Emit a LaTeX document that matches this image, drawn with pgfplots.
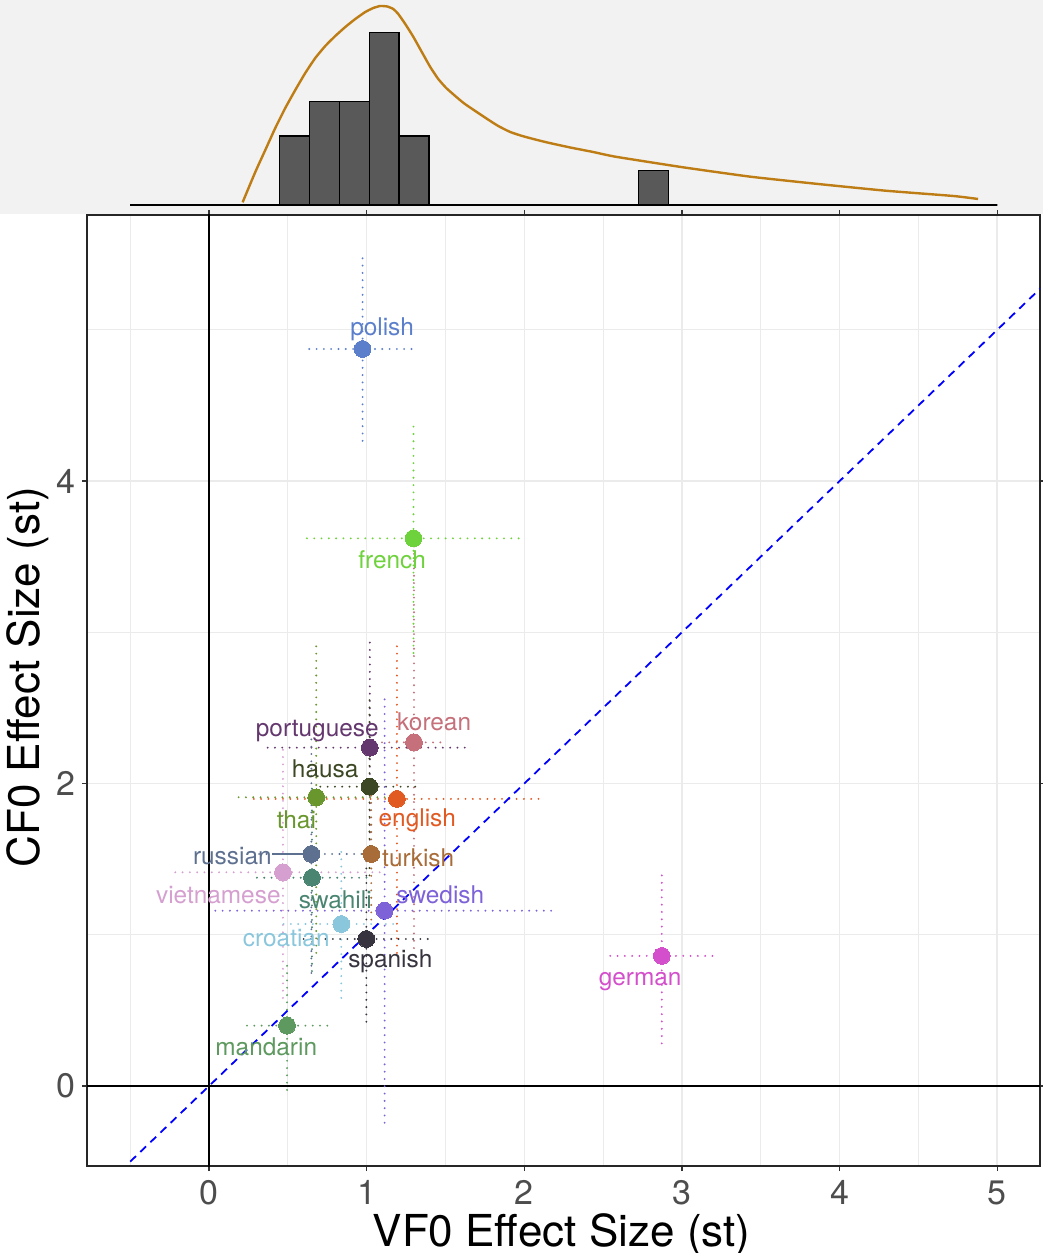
\documentclass[border=0pt]{standalone}
\usepackage{pgfplots}
\pgfplotsset{compat=1.18}
\usepackage{fontspec}
\setmainfont{TeX Gyre Heros}

\definecolor{panelgray}{RGB}{242,242,242}
\definecolor{gridgray}{RGB}{235,235,235}
\definecolor{tickgray}{RGB}{77,77,77}
\definecolor{barfill}{RGB}{89,89,89}
\definecolor{densline}{RGB}{190,125,20}

\definecolor{cpolish}{RGB}{91,127,203}
\definecolor{cfrench}{RGB}{110,210,60}
\definecolor{cportuguese}{RGB}{100,55,110}
\definecolor{ckorean}{RGB}{197,112,122}
\definecolor{chausa}{RGB}{60,72,35}
\definecolor{cthai}{RGB}{105,150,45}
\definecolor{cenglish}{RGB}{224,90,34}
\definecolor{crussian}{RGB}{94,112,144}
\definecolor{cturkish}{RGB}{168,108,56}
\definecolor{cvietnamese}{RGB}{213,159,208}
\definecolor{cswahili}{RGB}{74,133,113}
\definecolor{cswedish}{RGB}{126,98,216}
\definecolor{ccroatian}{RGB}{138,198,220}
\definecolor{cspanish}{RGB}{56,52,63}
\definecolor{cmandarin}{RGB}{94,154,96}
\definecolor{cgerman}{RGB}{211,79,203}

\tikzset{errdot/.style={line width=1.05pt, line cap=round, dash pattern=on 0pt off 3.65pt}}

% horizontal and vertical interval for one language: colour, x, y, xlo, xhi, ylo, yhi
\newcommand{\langerr}[7]{%
  \addplot[#1, errdot] coordinates {(#4,#3) (#5,#3)};
  \addplot[#1, errdot] coordinates {(#2,#6) (#2,#7)};
}
% point estimate for one language
\newcommand{\langpt}[3]{%
  \addplot[only marks, mark=*, mark size=4.2pt, color=#1, mark options={line width=0pt}] coordinates {(#2,#3)};
}
% language name
\newcommand{\langlbl}[4]{%
  \node[text=#1, font=\fontsize{12.2}{14}\selectfont, inner sep=0pt] at (axis cs:#2,#3) {#4};
}

\begin{document}
\begin{tikzpicture}
\path[use as bounding box] (0,0) rectangle (521.5pt,-626.5pt);
\fill[panelgray] (0,0) rectangle (521.5pt,-107pt);

% marginal histogram of VF0 effect sizes with its density curve
\begin{axis}[
  at={(43.5pt,-107.5pt)}, anchor=south west,
  width=476.5pt, height=107.5pt, scale only axis,
  xmin=-0.774, xmax=5.271, ymin=-0.29, ymax=5.942,
  axis lines=none, clip=false,
]
\addplot[ybar interval, fill=barfill, draw=black, line width=0.8pt] coordinates {
  (-0.5000,0) (-0.3103,0) (-0.1207,0) (0.0690,0) (0.2586,0)
  (0.4483,2) (0.6379,3) (0.8276,3) (1.0172,5) (1.2069,2)
  (1.3966,0) (1.5862,0) (1.7759,0) (1.9655,0) (2.1552,0)
  (2.3448,0) (2.5345,0) (2.7241,1) (2.9138,0) (3.1034,0)
  (3.2931,0) (3.4828,0) (3.6724,0) (3.8621,0) (4.0517,0)
  (4.2414,0) (4.4310,0) (4.6207,0) (4.8103,0) (5.0000,0)
};
\addplot[densline, line width=1.2pt, line join=round, smooth, tension=0.3] coordinates {
  (0.2131,0.078) (0.2936,0.957) (0.3570,1.594) (0.4204,2.232) (0.4838,2.812)
  (0.5472,3.333) (0.6106,3.826) (0.6741,4.261) (0.7375,4.609) (0.8009,4.899)
  (0.8643,5.159) (0.9277,5.391) (0.9911,5.594) (1.0418,5.710) (1.0862,5.768)
  (1.1306,5.754) (1.1687,5.681) (1.2004,5.536) (1.2448,5.246) (1.2955,4.878)
  (1.3462,4.464) (1.4033,4.000) (1.4540,3.652) (1.5047,3.391) (1.5618,3.159)
  (1.6189,2.942) (1.6886,2.725) (1.7647,2.493) (1.8345,2.290) (1.9106,2.116)
  (1.9867,2.000) (2.0691,1.899) (2.1516,1.806) (2.2911,1.667) (2.4369,1.536)
  (2.5777,1.400) (3.0063,1.093) (3.4350,0.820) (3.8636,0.609) (4.2929,0.414)
  (4.7216,0.261) (4.8783,0.174)
};
\end{axis}

% main scatter: CF0 against VF0 effect sizes
\begin{axis}[
  at={(43.5pt,-583pt)}, anchor=south west,
  width=476.5pt, height=475.5pt, scale only axis,
  xmin=-0.774, xmax=5.271, ymin=-0.529, ymax=5.759,
  xtick={0,1,2,3,4,5}, minor xtick={-0.5,0.5,1.5,2.5,3.5,4.5},
  ytick={0,2,4}, minor ytick={1,3,5},
  grid=both,
  major grid style={gridgray, line width=0.8pt},
  minor grid style={gridgray, line width=0.6pt},
  axis line style={black!85, line width=0.7pt},
  tick align=outside, major tick length=2.5pt, minor tick length=0pt,
  tick style={black!80, line width=0.6pt},
  /pgf/number format/assume math mode=true,
  ticklabel style={font=\fontsize{17}{20}\selectfont, text=tickgray},
  xticklabel style={inner sep=0.5pt, yshift=-4pt},
  xlabel={VF0 Effect Size (st)}, ylabel={CF0 Effect Size (st)},
  label style={font=\fontsize{22}{26}\selectfont, inner sep=0pt},
  xlabel style={at={(axis description cs:0.498,-0.0722)}, anchor=center},
  ylabel style={at={(axis description cs:-0.062,0.514)}, anchor=center},
]
% reference lines
\addplot[black, line width=0.9pt] coordinates {(-1,0) (6,0)};
\addplot[black, line width=0.9pt] coordinates {(0,-1) (0,6)};

% intervals
\langerr{cpolish}{0.974}{4.873}{0.636}{1.310}{4.266}{5.483}
\langerr{cfrench}{1.297}{3.621}{0.621}{1.978}{2.863}{4.390}
\langerr{ckorean}{1.300}{2.272}{1.097}{1.509}{0.912}{3.696}
\langerr{cportuguese}{1.020}{2.237}{0.372}{1.668}{1.532}{2.942}
\langerr{chausa}{1.018}{1.979}{0.706}{1.340}{1.393}{2.565}
\langerr{cthai}{0.680}{1.909}{0.188}{1.172}{0.880}{2.938}
\langerr{cenglish}{1.192}{1.898}{0.284}{2.101}{0.880}{2.916}
\langerr{crussian}{0.649}{1.534}{0.318}{0.980}{0.747}{2.321}
\langerr{cturkish}{1.029}{1.534}{0.980}{1.080}{1.100}{1.950}
\langerr{cvietnamese}{0.469}{1.413}{-0.214}{1.090}{0.582}{2.235}
\langerr{cswahili}{0.653}{1.377}{0.304}{1.020}{0.760}{2.000}
\langerr{cswedish}{1.114}{1.159}{0.040}{2.196}{-0.243}{2.563}
\langerr{ccroatian}{0.839}{1.071}{0.473}{1.213}{0.582}{1.549}
\langerr{cspanish}{0.998}{0.972}{0.600}{1.393}{0.425}{1.519}
\langerr{cmandarin}{0.495}{0.399}{0.241}{0.758}{-0.026}{0.822}
\langerr{cgerman}{2.872}{0.860}{2.545}{3.200}{0.282}{1.428}

% point estimates
\langpt{cpolish}{0.974}{4.873}
\langpt{cfrench}{1.297}{3.621}
\langpt{ckorean}{1.300}{2.272}
\langpt{cportuguese}{1.020}{2.237}
\langpt{chausa}{1.018}{1.979}
\langpt{cthai}{0.680}{1.909}
\langpt{cenglish}{1.192}{1.898}
\langpt{crussian}{0.649}{1.534}
\langpt{cturkish}{1.029}{1.534}
\langpt{cvietnamese}{0.469}{1.413}
\langpt{cswahili}{0.653}{1.377}
\langpt{cswedish}{1.114}{1.159}
\langpt{ccroatian}{0.839}{1.071}
\langpt{cspanish}{0.998}{0.972}
\langpt{cmandarin}{0.495}{0.399}
\langpt{cgerman}{2.872}{0.860}

% identity line
\addplot[blue, line width=0.9pt, dash pattern=on 4pt off 3pt] coordinates {(-0.5,-0.5) (5.5,5.5)};

% connector from a displaced label
\addplot[crussian, line width=0.9pt] coordinates {(0.398,1.534) (0.649,1.534)};

% labels
\langlbl{cpolish}{1.098}{5.005}{polish}
\langlbl{cfrench}{1.162}{3.478}{french}
\langlbl{cportuguese}{0.687}{2.350}{portuguese}
\langlbl{ckorean}{1.428}{2.407}{korean}
\langlbl{chausa}{0.737}{2.096}{hausa}
\langlbl{cthai}{0.554}{1.759}{thai}
\langlbl{cenglish}{1.321}{1.759}{english}
\langlbl{crussian}{0.148}{1.520}{russian}
\langlbl{cturkish}{1.327}{1.507}{turkish}
\langlbl{cvietnamese}{0.059}{1.262}{vietnamese}
\langlbl{cswahili}{0.801}{1.230}{swahili}
\langlbl{cswedish}{1.467}{1.263}{swedish}
\langlbl{ccroatian}{0.490}{0.979}{croatian}
\langlbl{cspanish}{1.150}{0.826}{spanish}
\langlbl{cmandarin}{0.363}{0.258}{mandarin}
\langlbl{cgerman}{2.735}{0.690}{german}
\end{axis}
\end{tikzpicture}
\end{document}
